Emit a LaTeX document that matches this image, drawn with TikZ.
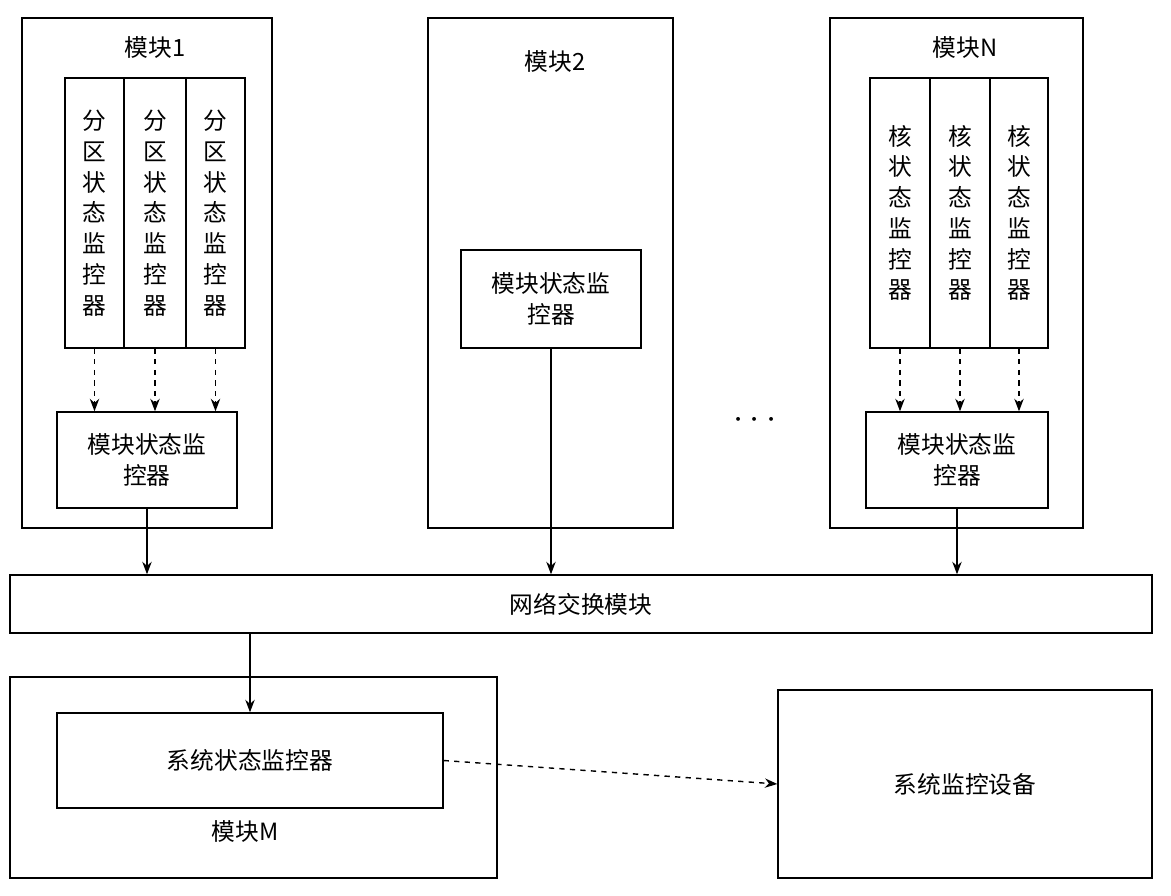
\documentclass[tikz,border=0pt]{standalone}
\usepackage{fontspec}
\setmainfont{Noto Sans CJK SC}
\usetikzlibrary{arrows.meta}
\begin{document}
\begin{tikzpicture}[x=0.02cm, y=-0.02cm, thick, font=\fontsize{13.5}{17.5}\selectfont,
    box/.style = {draw, rectangle, inner sep=0pt},
    col/.style = {box, minimum height=5.4cm, align=center},
    arr/.style = {-{Stealth[length=2.5mm]}},
    darr/.style = {dashed, -{Stealth[length=2.5mm]}}]
        \useasboundingbox (0,0) rectangle (1171,896);
        % module 1
        \node [box, minimum width=5cm, minimum height=10.2cm] (m1) at (147,273) {};
        \node (m1t) at (155,48) {模块1};
        \node [col, minimum width=1.18cm] (p1) at (94.5,213) {分\\区\\状\\态\\监\\控\\器};
        \node [col, minimum width=1.24cm] (p2) at (155,213) {分\\区\\状\\态\\监\\控\\器};
        \node [col, minimum width=1.18cm] (p3) at (215.5,213) {分\\区\\状\\态\\监\\控\\器};
        \node [box, minimum width=3.6cm, minimum height=1.92cm, align=center] (mb1) at (147,460) {模块状态监\\控器};
        % module 2
        \node [box, minimum width=4.9cm, minimum height=10.2cm] (m2) at (550.5,273) {};
        \node (m2t) at (555,62) {模块2};
        \node [box, minimum width=3.6cm, minimum height=1.96cm, align=center] (mb2) at (551,299) {模块状态监\\控器};
        % module N
        \node [box, minimum width=5.06cm, minimum height=10.2cm] (mn) at (956.5,273) {};
        \node (mnt) at (965,48) {模块N};
        \node [col, minimum width=1.2cm] (c1) at (900,213) {核\\状\\态\\监\\控\\器};
        \node [col, minimum width=1.2cm] (c2) at (960,213) {核\\状\\态\\监\\控\\器};
        \node [col, minimum width=1.16cm] (c3) at (1019,213) {核\\状\\态\\监\\控\\器};
        \node [box, minimum width=3.64cm, minimum height=1.92cm, align=center] (mbn) at (957,460) {模块状态监\\控器};
        \node [font=\fontsize{20}{20}\selectfont] (dots) at (755,420) {$\cdots$};
        % network and bottom row
        \node [box, minimum width=22.84cm, minimum height=1.16cm] (net) at (581,604) {网络交换模块};
        \node [box, minimum width=9.74cm, minimum height=4.02cm] (mm) at (253.5,777.5) {};
        \node [box, minimum width=7.72cm, minimum height=1.9cm] (sys) at (250,760.5) {系统状态监控器};
        \node (mmt) at (245,832) {模块M};
        \node [box, minimum width=7.48cm, minimum height=3.76cm] (dev) at (965,784) {系统监控设备};
        \foreach \n in {p1,p2,p3}
            \draw[darr] (\n.south) -- (\n.south |- mb1.north);
        \foreach \n in {c1,c2,c3}
            \draw[darr] (\n.south) -- (\n.south |- mbn.north);
        \draw[arr] (mb1.south) -- (mb1.south |- net.north);
        \draw[arr] (mb2.south) -- (mb2.south |- net.north);
        \draw[arr] (mbn.south) -- (mbn.south |- net.north);
        \draw[arr] (net.south -| sys.north) -- (sys.north);
        \draw[darr] (sys.east) -- (dev.west);
\end{tikzpicture}
\end{document}
